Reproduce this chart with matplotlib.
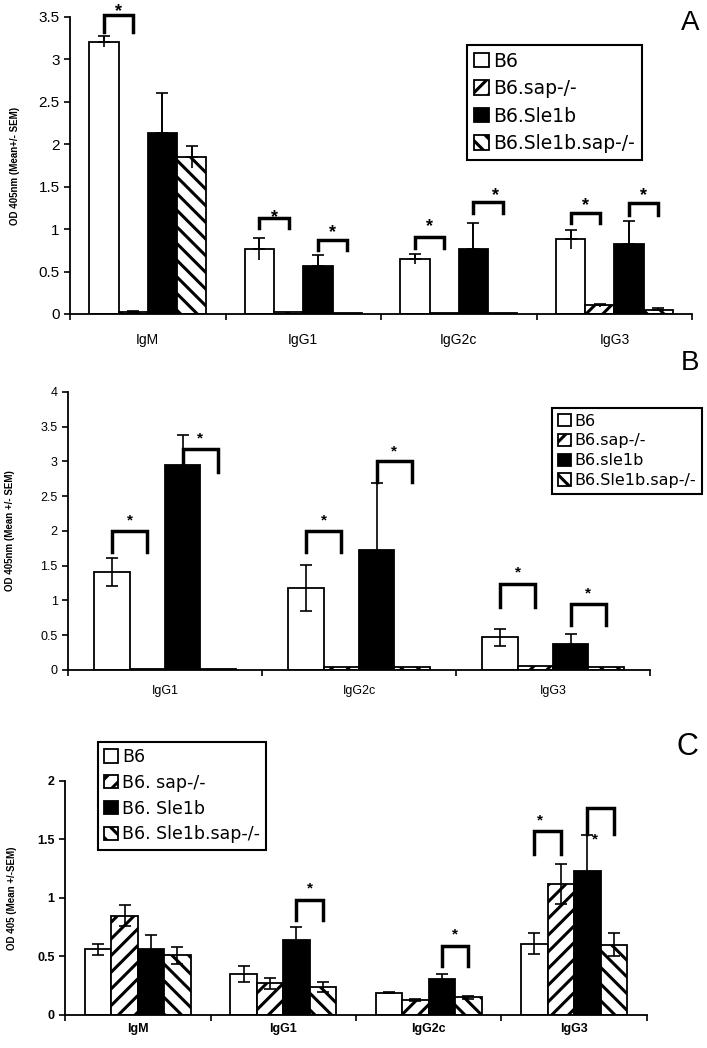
import numpy as np
import matplotlib
matplotlib.use('Agg')
import matplotlib.pyplot as plt
from matplotlib.ticker import FormatStrFormatter

plt.rcParams['font.family'] = ['Liberation Sans', 'DejaVu Sans']
plt.rcParams['hatch.linewidth'] = 2.2

# ---- data (rows = strain, cols = isotype) ----
strains_a = ['B6', 'B6.sap-/-', 'B6.Sle1b', 'B6.Sle1b.sap-/-']
strains_b = ['B6', 'B6.sap-/-', 'B6.sle1b', 'B6.Sle1b.sap-/-']
strains_c = ['B6', 'B6. sap-/-', 'B6. Sle1b', 'B6. Sle1b.sap-/-']

iso_a = ['IgM', 'IgG1', 'IgG2c', 'IgG3']
iso_b = ['IgG1', 'IgG2c', 'IgG3']
iso_c = ['IgM', 'IgG1', 'IgG2c', 'IgG3']

mean_a = [[3.21, 0.77, 0.65, 0.88],
          [0.02, 0.02, 0.01, 0.10],
          [2.13, 0.56, 0.77, 0.82],
          [1.85, 0.01, 0.01, 0.05]]
sem_a = [[0.06, 0.13, 0.06, 0.11],
         [0.01, 0.0, 0.0, 0.02],
         [0.47, 0.13, 0.30, 0.28],
         [0.13, 0.0, 0.0, 0.02]]

mean_b = [[1.41, 1.18, 0.47],
          [0.01, 0.04, 0.06],
          [2.95, 1.72, 0.38],
          [0.01, 0.04, 0.04]]
sem_b = [[0.20, 0.33, 0.12],
         [0.0, 0.0, 0.0],
         [0.43, 0.97, 0.14],
         [0.0, 0.0, 0.0]]

mean_c = [[0.56, 0.35, 0.19, 0.61],
          [0.85, 0.27, 0.13, 1.12],
          [0.56, 0.64, 0.31, 1.23],
          [0.51, 0.24, 0.15, 0.60]]
sem_c = [[0.05, 0.07, 0.005, 0.09],
         [0.09, 0.05, 0.01, 0.17],
         [0.12, 0.11, 0.04, 0.31],
         [0.07, 0.04, 0.01, 0.10]]

# significance brackets: (isotype, bar_i, bar_j, top, leg, star_frac, star_y)
sig_a = [(0, 0, 1, 3.52, 3.32, 0.5, 3.56),
         (1, 0, 1, 1.13, 1.01, 0.5, 1.14),
         (1, 2, 3, 0.87, 0.75, 0.5, 0.96),
         (2, 0, 1, 0.91, 0.78, 0.5, 1.03),
         (2, 2, 3, 1.32, 1.19, 0.75, 1.40),
         (3, 0, 1, 1.19, 1.07, 0.5, 1.28),
         (3, 2, 3, 1.31, 1.17, 0.5, 1.40)]
sig_b = [(0, 0, 1, 2.0, 1.7, 0.5, 2.15),
         (0, 2, 3, 3.18, 2.85, 0.5, 3.33),
         (1, 0, 1, 2.0, 1.7, 0.5, 2.15),
         (1, 2, 3, 3.0, 2.7, 0.5, 3.15),
         (2, 0, 1, 1.24, 0.9, 0.5, 1.40),
         (2, 2, 3, 0.95, 0.65, 0.5, 1.10)]
sig_c = [(1, 2, 3, 0.98, 0.81, 0.5, 1.08),
         (2, 2, 3, 0.59, 0.42, 0.5, 0.69),
         (3, 0, 1, 1.57, 1.38, 0.2, 1.66),
         (3, 2, 3, 1.77, 1.55, 0.3, 1.50)]

colors = ['white', 'white', 'black', 'white']
hatches = [None, '//', None, '\\\\']


def draw_panel(ax, isos, means, sems, sigs, strains, w, ymax, lw, top_cap_only,
               tick_fs, lab_fs, ylabel, ylab_x, label_pad, star_fs, sig_lw, bold):
    n = len(isos)
    x = np.arange(n)
    means = np.array(means)
    sems = np.array(sems)
    offs = (np.arange(4) - 1.5) * w
    for k in range(4):
        ax.bar(x + offs[k], means[k], w, color=colors[k], hatch=hatches[k],
               edgecolor='black', linewidth=lw, label=strains[k], zorder=2)
        has = sems[k] > 0
        if has.any():
            xe = x[has] + offs[k]
            if top_cap_only:
                ax.errorbar(xe, means[k][has], yerr=sems[k][has], fmt='none',
                            ecolor='black', elinewidth=1.2, capsize=0, zorder=3)
                ax.errorbar(xe, means[k][has], yerr=[np.zeros(has.sum()), sems[k][has]],
                            fmt='none', ecolor='black', elinewidth=1.2, capsize=4,
                            capthick=1.2, zorder=3)
            else:
                ax.errorbar(xe, means[k][has], yerr=sems[k][has], fmt='none',
                            ecolor='black', elinewidth=1.2, capsize=4, capthick=1.2,
                            zorder=3)

    for g, i, j, top, leg, frac, sy in sigs:
        x1 = g + offs[i]
        x2 = g + offs[j]
        ax.plot([x1, x1, x2, x2], [leg, top, top, leg], color='black', lw=sig_lw,
                solid_joinstyle='miter', clip_on=False, zorder=4)
        ax.text(x1 + frac * (x2 - x1), sy, '*', ha='center', va='center',
                fontsize=star_fs, fontweight='bold', clip_on=False)

    ax.set_xlim(-0.5, n - 0.5)
    ax.set_ylim(0, ymax)
    ax.set_yticks(np.arange(0, ymax + 0.01, 0.5))
    ax.yaxis.set_major_formatter(FormatStrFormatter('%g'))
    ax.set_xticks(np.arange(n + 1) - 0.5)
    ax.set_xticklabels([''] * (n + 1))
    ax.set_xticks(x, minor=True)
    ax.set_xticklabels(isos, minor=True, fontsize=lab_fs,
                       fontweight='bold' if bold else 'normal')
    ax.tick_params(axis='x', which='minor', length=0, pad=label_pad)
    ax.tick_params(axis='x', which='major', length=4, width=1.2, direction='out')
    ax.tick_params(axis='y', length=4, width=1.2, direction='out', labelsize=tick_fs)
    if bold:
        for t in ax.get_yticklabels():
            t.set_fontweight('bold')
    for s in ['top', 'right']:
        ax.spines[s].set_visible(False)
    for s in ['left', 'bottom']:
        ax.spines[s].set_linewidth(1.3)
    ax.set_ylabel(ylabel, fontsize=7, fontweight='bold')
    ax.yaxis.set_label_coords(ylab_x, 0.5)


fig = plt.figure(figsize=(7.07, 10.48), dpi=100)

ax_a = fig.add_axes([0.099, 0.7004, 0.880, 0.2834])
ax_b = fig.add_axes([0.0962, 0.3607, 0.8232, 0.2653])
ax_c = fig.add_axes([0.092, 0.0315, 0.823, 0.2233])

draw_panel(ax_a, iso_a, mean_a, sem_a, sig_a, strains_a, 0.188, 3.5, 1.3, True,
           11, 10, 'OD 405nm (Mean+/- SEM)', -0.08, 14, 13, 2.5, False)
draw_panel(ax_b, iso_b, mean_b, sem_b, sig_b, strains_b, 0.182, 4.0, 1.3, False,
           9, 9, 'OD 405nm (Mean +/- SEM)', -0.091, 11, 11, 2.5, False)
draw_panel(ax_c, iso_c, mean_c, sem_c, sig_c, strains_c, 0.182, 2.0, 1.3, False,
           9, 9, 'OD 405 (Mean +/-SEM)', -0.082, 6, 11, 2.5, True)

leg_kw = dict(loc='upper left', bbox_transform=fig.transFigure, borderaxespad=0,
              fancybox=False, framealpha=1, edgecolor='black', handlelength=0.8,
              handleheight=0.8, handletextpad=0.25, borderpad=0.35)
la = ax_a.legend(bbox_to_anchor=(0.6605, 0.957), prop={'family': 'DejaVu Sans', 'size': 13.5},
                 labelspacing=0.45, **leg_kw)
lb = ax_b.legend(bbox_to_anchor=(0.781, 0.6107), prop={'family': 'DejaVu Sans', 'size': 11.5},
                 labelspacing=0.3, **leg_kw)
lc = ax_c.legend(bbox_to_anchor=(0.1386, 0.292), prop={'family': 'DejaVu Sans', 'size': 12.5},
                 labelspacing=0.45, **leg_kw)
for lg in (la, lb, lc):
    lg.get_frame().set_linewidth(1.5)

fig.text(0.976, 0.978, 'A', fontsize=20, ha='center', va='center')
fig.text(0.976, 0.654, 'B', fontsize=20, ha='center', va='center')
fig.text(0.972, 0.287, 'C', fontsize=22, ha='center', va='center')

fig.savefig('out.png', dpi=100)
